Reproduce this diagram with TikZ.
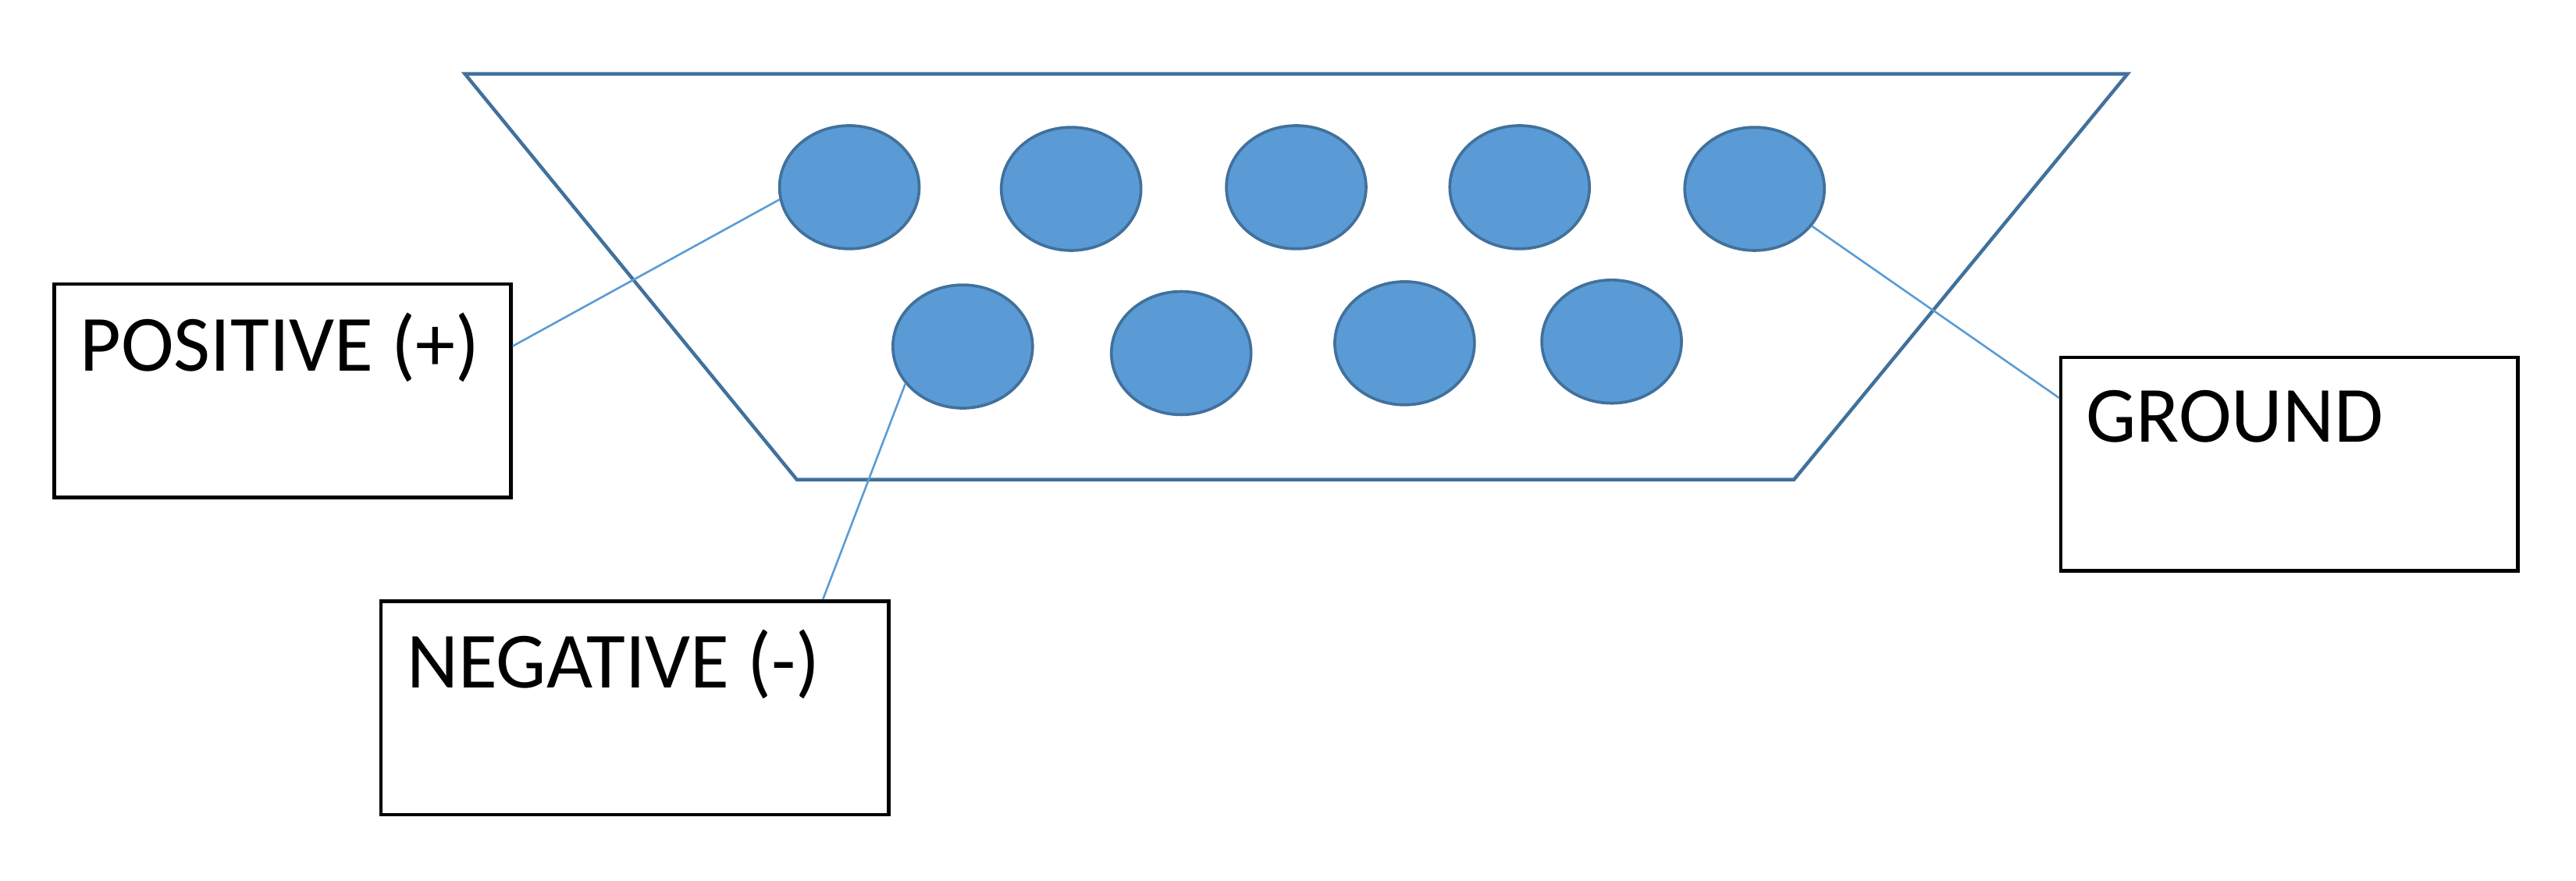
\documentclass[tikz,border=0pt]{standalone}
\usepackage{fontspec}
\setmainfont{Carlito}
\usetikzlibrary{shapes.geometric}
\definecolor{pinfill}{HTML}{5B9BD5}
\definecolor{pinedge}{HTML}{41719C}
\tikzset{
    pin/.style={ellipse, draw=pinedge, fill=pinfill, line width=0.5pt,
        minimum width=8.5mm, minimum height=7.5mm, inner sep=0pt},
    tag/.style={draw=black, line width=0.6pt, minimum width=27.8mm,
        minimum height=13mm, inner sep=0pt},
    tagtext/.style={anchor=base west, inner sep=0pt,
        font=\fontsize{13.8}{16}\selectfont},
    wire/.style={draw=pinfill, line width=0.35pt}
}
\begin{document}
\begin{tikzpicture}[x=0.1mm, y=-0.1mm]
    \useasboundingbox (0,0) rectangle (1568,536);
    % connector shell
    \draw[pinedge, line width=0.6pt] (283,45) -- (1295,45) -- (1092,292) -- (485,292) -- cycle;
    % pins
    \foreach \n/\x/\y in {1/517/114, 2/652/115, 3/789/114, 4/925/114, 5/1068/115} {
        \node[pin] (c\n) at (\x,\y) {};
    }
    \foreach \n/\x/\y in {1/586/211, 2/719/215, 3/855/209, 4/981/208} {
        \node[pin] (b\n) at (\x,\y) {};
    }
    % labels
    \node[tag] (pos) at (172,238) {};
    \node[tagtext] (pos-t) at (48,226) {POSITIVE (+)};
    \node[tag, minimum width=30.9mm] (neg) at (386.5,431) {};
    \node[tagtext] (neg-t) at (247,419) {NEGATIVE (-)};
    \node[tag] (gnd) at (1393.5,282.5) {};
    \node[tagtext] (gnd-t) at (1269,269) {GROUND};
    % wires
    \draw[wire] (pos.11) -- (c1.190);
    \draw[wire] (neg.30) -- (b1.213);
    \draw[wire] (gnd.164) -- (c5.327);
\end{tikzpicture}
\end{document}
